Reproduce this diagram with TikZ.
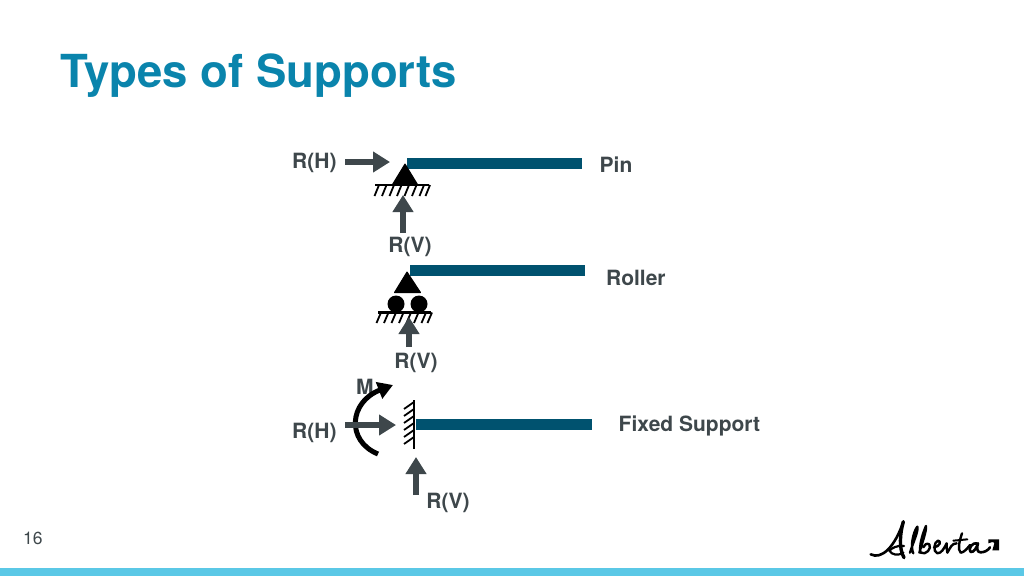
\documentclass[tikz,border=0pt]{standalone}
\usepackage{fontspec}
\setmainfont{TeX Gyre Heros}
\usetikzlibrary{arrows.meta}
\definecolor{titleblue}{HTML}{0A84AC}
\definecolor{barblue}{HTML}{00526F}
\definecolor{ink}{HTML}{3E474B}
\definecolor{strip}{HTML}{5BC8E6}
\tikzset{
  x=1pt,y=-1pt,
  lbl/.style={font=\fontsize{21}{25}\selectfont\bfseries,text=ink,inner sep=0pt},
  force/.style={draw=ink,line width=5.5pt,-{Triangle[width=20pt,length=17pt]}},
  barbeam/.style={fill=barblue,draw=none},
  tri/.style={fill=black,draw=black,line width=1pt,line join=round},
  gnd/.style={draw=black,line width=2.2pt},
  hatch/.style={draw=black,line width=1.8pt},
  roll/.style={fill=black,draw=none,circle,minimum size=17pt,inner sep=0pt},
  logo/.style={draw=black,line cap=round,line join=round}
}
\begin{document}
\begin{tikzpicture}
\useasboundingbox (0,0) rectangle (1024,576);
\fill[white] (0,0) rectangle (1024,576);
\fill[strip] (0,568) rectangle (1024,576);
\node[anchor=west,inner sep=0pt,text=titleblue,font=\fontsize{45.5}{50}\selectfont\bfseries] (title) at (60,76) {Types of Supports};
\node[anchor=west,inner sep=0pt,text=ink,font=\fontsize{17.5}{20}\selectfont] (page) at (23,538) {16};

% Pin
\fill[barbeam] (407,158) rectangle (582,169);
\draw[tri] (405,164) -- (417.5,184.5) -- (392.5,184.5) -- cycle;
\draw[gnd] (375,185) -- (429,185);
\foreach \x in {379,386.5,394,401.5,409,416.5,424,430}{\draw[hatch] (\x,185) -- (\x-4.5,196);}
\node[lbl,anchor=west] (pinH) at (292,163) {R(H)};
\node[lbl,anchor=center] (pinV) at (410,247) {R(V)};
\node[lbl,anchor=west] (pinT) at (599.5,165) {Pin};
\coordinate (pinHa) at (345,162);
\coordinate (pinHb) at (390,162);
\coordinate (pinVa) at (403,233);
\coordinate (pinVb) at (403,195);
\draw[force] (pinHa) -- (pinHb);
\draw[force] (pinVa) -- (pinVb);

% Roller
\fill[barbeam] (410,265) rectangle (585,276);
\draw[tri] (407,272) -- (420.5,292.5) -- (394.5,292.5) -- cycle;
\node[roll] (r1) at (396,304) {};
\node[roll] (r2) at (419,304) {};
\draw[gnd] (378,312.5) -- (431,312.5);
\foreach \x in {381,388.5,396,403.5,411,418.5,426,432}{\draw[hatch] (\x,312.5) -- (\x-4.5,323);}
\node[lbl,anchor=center] (rolV) at (416,363) {R(V)};
\node[lbl,anchor=west] (rolT) at (606,278) {Roller};
\coordinate (rolVa) at (409,347);
\coordinate (rolVb) at (409,317);
\draw[force] (rolVa) -- (rolVb);

% Fixed
\fill[barbeam] (416,419) rectangle (592,430);
\draw[draw=black,line width=2pt] (414,400) -- (414,449);
\foreach \y in {409,416,423,430,437,444}{\draw[hatch] (414,\y-7) -- (404,\y);}
\node[lbl,anchor=west] (fixH) at (292,433) {R(H)};
\node[lbl,anchor=center] (fixV) at (448,503) {R(V)};
\node[lbl,anchor=west] (fixM) at (356,387) {M};
\node[lbl,anchor=west] (fixT) at (618.5,426) {Fixed Support};
\coordinate (momA) at (378,454);
\coordinate (momB) at (393,385);
\draw[black,line width=5pt,-{Triangle[width=17pt,length=15pt]}] (momA) .. controls (346,441) and (349,402) .. (momB);
\coordinate (fixHa) at (345,425);
\coordinate (fixHb) at (396,425);
\coordinate (fixVa) at (416,495);
\coordinate (fixVb) at (416,457);
\draw[force] (fixHa) -- (fixHb);
\draw[force] (fixVa) -- (fixVb);

% Alberta logo
\begin{scope}[shift={(860,510)},x=0.3333pt,y=-0.3333pt]
\draw[logo,line width=2.6pt] (32,133) .. controls (65,150) and (105,110) .. (130,35);
\draw[logo,line width=3.4pt] (130,35) .. controls (120,70) and (116,115) .. (132,143);
\draw[logo,line width=2.2pt] (132,108) .. controls (110,105) and (95,115) .. (88,122) .. controls (95,135) and (115,138) .. (130,128);
\draw[logo,line width=2.4pt] (150,128) .. controls (160,95) and (176,62) .. (172,50) .. controls (160,65) and (150,110) .. (160,130);
\draw[logo,line width=2.4pt] (178,128) .. controls (186,100) and (200,62) .. (198,48) .. controls (188,70) and (176,110) .. (182,128)
  .. controls (198,137) and (216,115) .. (208,103) .. controls (200,98) and (192,105) .. (190,112);
\draw[logo,line width=2.4pt] (222,112) .. controls (240,110) and (245,92) .. (234,92) .. controls (222,95) and (218,125) .. (232,130) .. controls (245,130) and (252,115) .. (260,100)
  .. controls (262,110) and (258,120) .. (262,128) .. controls (272,112) and (275,100) .. (290,100);
\draw[logo,line width=2.4pt] (306,70) .. controls (298,95) and (292,118) .. (302,128) .. controls (312,128) and (322,115) .. (330,105);
\draw[logo,line width=2pt] (280,92) -- (322,88);
\draw[logo,line width=2.6pt] (352,100) .. controls (338,95) and (322,118) .. (332,126) .. controls (342,128) and (350,112) .. (354,100) .. controls (350,112) and (350,128) .. (362,127) .. controls (372,127) and (384,122) .. (390,112);
\fill[black] (385,88) -- (417,88) -- (417,121) -- (397,121) -- (403,100) .. controls (403,95) and (392,95) .. (385,100) -- cycle;
\end{scope}
\end{tikzpicture}
\end{document}
